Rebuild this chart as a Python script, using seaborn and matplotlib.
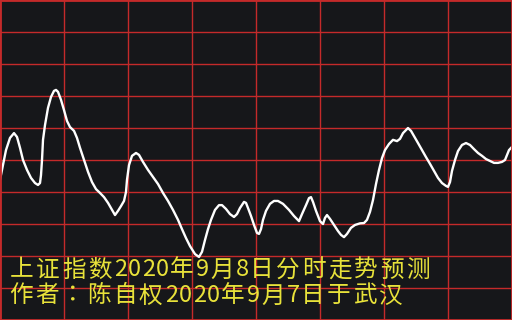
import matplotlib
matplotlib.use("Agg")
import matplotlib.pyplot as plt
import seaborn as sns
import pandas as pd
import numpy as np

# minutes of the trading session (0-240) and predicted index level (grid units)
minutes = [0, 1.41, 2.81, 4.69, 6.56, 7.97, 9.38, 10.78, 12.66, 14.53, 16.41, 17.81, 18.75, 19.22, 19.69, 20.16,
           21.09, 22.50, 23.91, 25.31, 26.25, 27.19, 28.59, 30.00, 31.41, 32.81, 34.69, 36.09, 37.50, 39.38, 41.25,
           43.13, 45.00, 46.88, 48.75, 50.63, 52.50, 53.91, 55.31, 56.72, 58.13, 59.06, 59.53, 60.47, 61.88, 63.75,
           65.16, 67.03, 69.38, 71.72, 74.06, 76.41, 78.75, 81.09, 83.44, 85.31, 87.19, 89.06, 91.41, 93.28, 94.69,
           96.09, 97.50, 98.91, 100.78, 102.66, 104.06, 105.94, 107.81, 109.69, 111.09, 112.50, 114.38, 115.31,
           116.25, 117.66, 119.06, 120.47, 121.41, 122.34, 123.28, 124.69, 126.56, 128.44, 130.31, 132.66, 135.47,
           137.81, 140.16, 141.56, 143.44, 144.84, 145.78, 146.72, 148.13, 150.00, 151.41, 152.34, 153.28, 154.69,
           156.56, 158.44, 159.84, 161.25, 162.66, 164.53, 166.41, 168.75, 170.63, 172.03, 173.44, 174.84, 176.25,
           177.66, 179.06, 180.47, 182.34, 184.22, 186.09, 187.50, 188.91, 191.25, 192.66, 194.06, 195.94, 197.81,
           199.69, 201.56, 203.44, 205.31, 207.19, 209.06, 210.00, 210.94, 211.88, 213.28, 214.69, 216.56, 218.44,
           220.31, 222.19, 224.06, 225.94, 227.81, 229.69, 231.56, 233.44, 235.31, 236.72, 237.66, 238.59, 240.00]
levels = [4.38, 4.84, 5.31, 5.69, 5.84, 5.72, 5.38, 5.00, 4.69, 4.44, 4.28, 4.22, 4.28, 4.53, 5.00, 5.63,
          6.09, 6.63, 6.97, 7.16, 7.19, 7.13, 6.88, 6.56, 6.22, 6.03, 5.91, 5.69, 5.38, 5.00, 4.63,
          4.31, 4.09, 3.97, 3.84, 3.66, 3.44, 3.28, 3.41, 3.56, 3.72, 4.00, 4.38, 4.84, 5.13, 5.22,
          5.16, 4.94, 4.69, 4.47, 4.25, 3.97, 3.72, 3.44, 3.13, 2.84, 2.56, 2.31, 2.06, 1.97, 2.13,
          2.50, 2.84, 3.13, 3.44, 3.59, 3.59, 3.47, 3.31, 3.22, 3.31, 3.50, 3.69, 3.66,
          3.50, 3.25, 2.97, 2.72, 2.69, 2.84, 3.13, 3.41, 3.63, 3.72, 3.72, 3.63, 3.44,
          3.25, 3.09, 3.31, 3.59, 3.81, 3.84, 3.69, 3.41, 3.09, 3.00, 3.19, 3.28, 3.16,
          2.97, 2.78, 2.66, 2.59, 2.69, 2.88, 2.97, 3.02, 3.03, 3.13, 3.38, 3.75, 4.25,
          4.69, 5.06, 5.31, 5.50, 5.63, 5.59, 5.66, 5.84, 6.00, 5.91, 5.75, 5.53, 5.31,
          5.09, 4.88, 4.66, 4.44, 4.28, 4.19, 4.16, 4.31, 4.66, 5.00, 5.28, 5.47, 5.53,
          5.47, 5.34, 5.22, 5.13, 5.03, 4.97, 4.91, 4.91, 4.94, 5.00, 5.16, 5.31, 5.41]

x_grid = [0, 30, 60, 90, 120, 150, 180, 210, 240]
y_grid = [0, 1, 2, 3, 4, 5, 6, 7, 8, 9, 10]

title_line = "上证指数2020年9月8日分时走势预测"
author_line = "作者：陈自权2020年9月7日于武汉"

df = pd.DataFrame({"minute": minutes, "level": levels})

sns.set_style("dark")
plt.rcParams["font.family"] = ["Noto Sans CJK SC", "DejaVu Sans"]

BG = "#16171a"
RED = "#c42a2a"
YELLOW = "#e8e23a"

fig = plt.figure(figsize=(5.12, 3.2), dpi=100, facecolor=BG)
ax = fig.add_axes([0, 0, 1, 1])
ax.set_facecolor(BG)

sns.lineplot(data=df, x="minute", y="level", ax=ax, color="white", linewidth=1.7,
             sort=False, estimator=None)

ax.set_xlim(0, 240)
ax.set_ylim(0, 10)
ax.set_xticks(x_grid)
ax.set_yticks(y_grid)
ax.grid(True, color=RED, linewidth=1.0)
ax.set_axisbelow(True)
ax.tick_params(length=0, labelbottom=False, labelleft=False)
ax.set_xlabel("")
ax.set_ylabel("")
for s in ax.spines.values():
    s.set_visible(True)
    s.set_color(RED)
    s.set_linewidth(2.0)

W, H = 512.0, 320.0


def put_line(text, x0, yc):
    x = x0
    for ch in text:
        fam = ["Noto Sans CJK TC", "DejaVu Sans"] if ch == "：" else ["Noto Sans CJK SC", "DejaVu Sans"]
        ax.text(x / W, 1 - yc / H, ch, transform=ax.transAxes, color=YELLOW,
                fontsize=17, fontweight="medium", ha="left", va="center", family=fam)
        x += 14 if ch.isascii() else 26


put_line(title_line, 10, 270)
put_line(author_line, 9, 296)

fig.savefig("out.png", dpi=100, facecolor=BG)
